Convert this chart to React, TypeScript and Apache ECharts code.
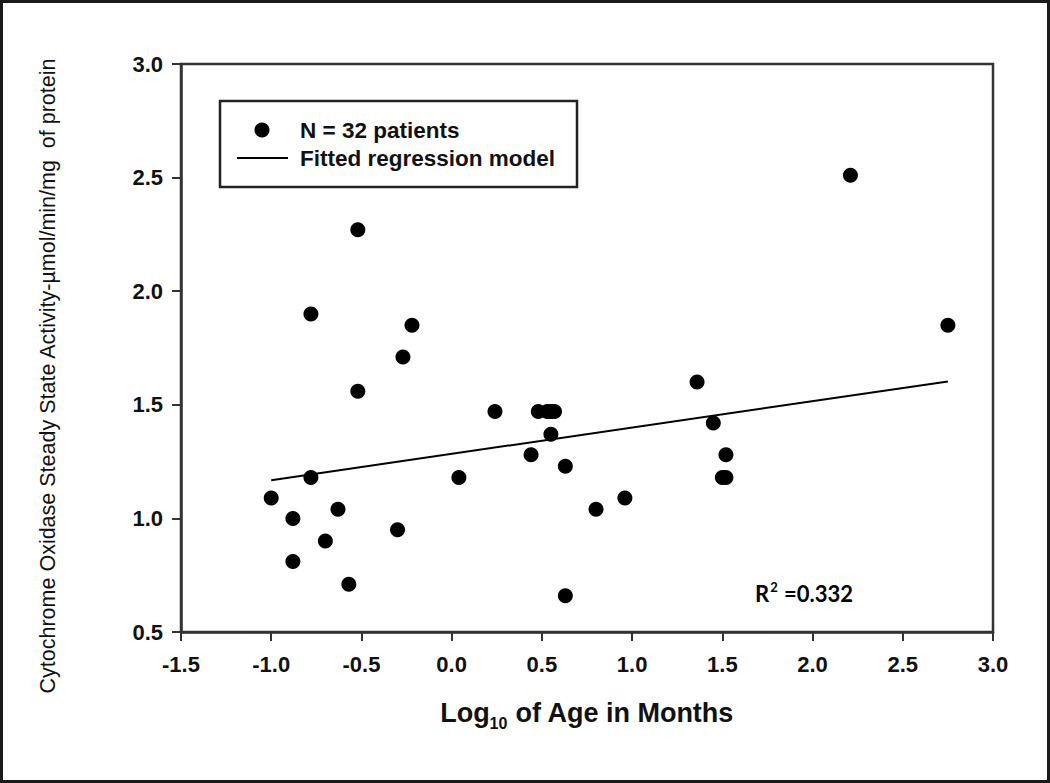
import React, { useEffect, useRef } from "react";
import * as echarts from "echarts";

const xTicks = [-1.5, -1.0, -0.5, 0.0, 0.5, 1.0, 1.5, 2.0, 2.5, 3.0];
const yTicks = [0.5, 1.0, 1.5, 2.0, 2.5, 3.0];

const patientX = [
  -1.0, -0.88, -0.88, -0.78, -0.78, -0.7, -0.63, -0.57, -0.52, -0.52, -0.3,
  -0.27, -0.22, 0.04, 0.24, 0.48, 0.53, 0.57, 0.55, 0.55, 0.44, 0.63, 0.63,
  0.8, 0.96, 1.36, 1.45, 1.52, 1.5, 1.52, 2.21, 2.75,
];
const patientY = [
  1.09, 1.0, 0.81, 1.9, 1.18, 0.9, 1.04, 0.71, 2.27, 1.56, 0.95, 1.71, 1.85,
  1.18, 1.47, 1.47, 1.47, 1.47, 1.47, 1.37, 1.28, 1.23, 0.66, 1.04, 1.09, 1.6,
  1.42, 1.28, 1.18, 1.18, 2.51, 1.85,
];
const fitX = [-1.0, 2.75];
const fitY = [1.168, 1.603];

const legendLabels = ["N = 32 patients", "Fitted regression model"];
const yAxisTitle =
  "Cytochrome Oxidase Steady State Activity-µmol/min/mg  of protein";
const rSquared = "0.332";

export default function App() {
  const ref = useRef<HTMLDivElement>(null);
  useEffect(() => {
    document.body.style.margin = "0";
    const chart = echarts.init(ref.current!, null, { renderer: "svg" });
    const font = "Arial, 'Liberation Sans', Helvetica, sans-serif";
    const ink = "#111";
    chart.setOption({
      animation: false,
      backgroundColor: "#fff",
      grid: {
        left: 181,
        right: 57,
        top: 64,
        bottom: 151,
        show: true,
        borderColor: "#333",
        borderWidth: 2.5,
        backgroundColor: "transparent",
        outerBoundsMode: "none",
        containLabel: false,
      },
      xAxis: {
        type: "value",
        min: xTicks[0],
        max: xTicks[xTicks.length - 1],
        interval: 0.5,
        name: "{a|Log}{b|10}{a| of Age in Months}",
        nameLocation: "middle",
        nameGap: 63,
        nameTextStyle: {
          rich: {
            a: { fontFamily: font, fontWeight: "bold", fontSize: 27, color: ink },
            b: {
              fontFamily: font,
              fontWeight: "bold",
              fontSize: 16,
              color: ink,
              padding: [20, 0, 0, 0],
            },
          },
        },
        axisLine: { show: true, onZero: false, lineStyle: { color: "#333", width: 2.5 } },
        axisTick: { show: true, inside: false, length: 9, lineStyle: { color: "#333", width: 2 } },
        axisLabel: {
          margin: 21,
          fontFamily: font,
          fontWeight: "bold",
          fontSize: 22,
          color: ink,
          formatter: (v: number) => v.toFixed(1),
        },
        splitLine: { show: false },
      },
      yAxis: {
        type: "value",
        min: yTicks[0],
        max: yTicks[yTicks.length - 1],
        interval: 0.5,
        axisLine: { show: true, onZero: false, lineStyle: { color: "#333", width: 2.5 } },
        axisTick: { show: true, inside: false, length: 9, lineStyle: { color: "#333", width: 2 } },
        axisLabel: {
          margin: 18,
          fontFamily: font,
          fontWeight: "bold",
          fontSize: 22,
          color: ink,
          formatter: (v: number) => v.toFixed(1),
        },
        splitLine: { show: false },
      },
      series: [
        {
          name: legendLabels[0],
          type: "scatter",
          symbol: "circle",
          symbolSize: 15,
          itemStyle: { color: "#000", opacity: 1 },
          data: patientX.map((x, i) => [x, patientY[i]]),
          z: 3,
        },
        {
          name: legendLabels[1],
          type: "line",
          symbol: "none",
          lineStyle: { color: "#000", width: 2 },
          data: fitX.map((x, i) => [x, fitY[i]]),
          z: 2,
        },
      ],
      graphic: [
        {
          type: "rect",
          shape: { x: 1.5, y: 1.5, width: 1047, height: 780 },
          style: { fill: "none", stroke: "#1a1a1a", lineWidth: 3 },
          silent: true,
        },
        {
          type: "rect",
          shape: { x: 220, y: 101, width: 357, height: 86 },
          style: { fill: "#fff", stroke: "#222", lineWidth: 2.5 },
          z: 10,
        },
        {
          type: "circle",
          shape: { cx: 262, cy: 130, r: 7.5 },
          style: { fill: "#000" },
          z: 11,
        },
        {
          type: "text",
          x: 300,
          y: 130,
          style: {
            text: legendLabels[0],
            font: `bold 22.5px ${font}`,
            fill: ink,
            verticalAlign: "middle",
          },
          z: 11,
        },
        {
          type: "line",
          shape: { x1: 237, y1: 158, x2: 288, y2: 158 },
          style: { stroke: "#000", lineWidth: 2 },
          z: 11,
        },
        {
          type: "text",
          x: 300,
          y: 158,
          style: {
            text: legendLabels[1],
            font: `bold 22.5px ${font}`,
            fill: ink,
            verticalAlign: "middle",
          },
          z: 11,
        },
        {
          type: "text",
          x: 48,
          y: 376,
          rotation: Math.PI / 2,
          style: {
            text: yAxisTitle,
            font: `21.5px ${font}`,
            fill: ink,
            align: "center",
            verticalAlign: "middle",
          },
        },
        {
          type: "text",
          x: 755,
          y: 593,
          style: {
            text: "{a|R}{s|2}{a| =" + rSquared + "}",
            rich: {
              a: { fontFamily: "Lato, 'Open Sans', sans-serif", fontWeight: "bold", fontSize: 22, color: ink },
              s: {
                fontFamily: "Lato, 'Open Sans', sans-serif",
                fontWeight: "bold",
                fontSize: 13,
                color: ink,
                padding: [0, 1, 12, 1],
              },
            },
            verticalAlign: "middle",
          },
        },
      ],
    });
    return () => chart.dispose();
  }, []);
  return <div ref={ref} style={{ width: 1050, height: 783 }} />;
}
